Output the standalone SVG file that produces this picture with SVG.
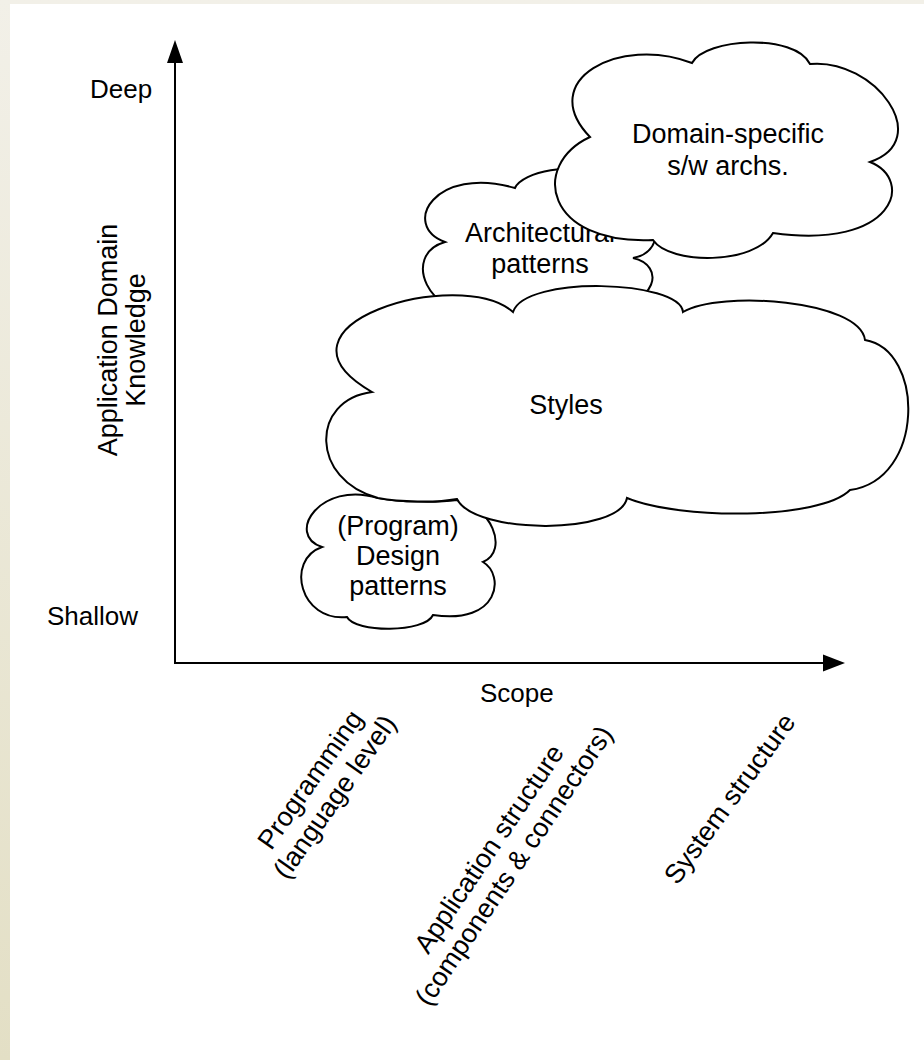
<svg xmlns="http://www.w3.org/2000/svg" width="924" height="1060" viewBox="0 0 924 1060">
  <defs>
    <linearGradient id="paper" x1="0" y1="0" x2="0" y2="1">
      <stop offset="0" stop-color="#f2f0e8"/>
      <stop offset="1" stop-color="#e3dfc5"/>
    </linearGradient>
    <style>
      text { font-family: "Liberation Sans", Arial, Helvetica, sans-serif; fill: #000; }
      .lbl { font-size: 26px; }
      .big { font-size: 27px; }
      .mid { text-anchor: middle; }
      .cloud { fill: #fff; stroke: #000; stroke-width: 2; stroke-linejoin: miter; }
      .axis { stroke: #000; stroke-width: 2; fill: none; }
      .head { fill: #000; stroke: none; }
    </style>
  </defs>

  <!-- page -->
  <rect x="0" y="0" width="924" height="1060" fill="url(#paper)"/>
  <rect x="10" y="4" width="914" height="1056" fill="#fff"/>

  <!-- axes -->
  <g id="connectors">
    <line class="axis" x1="175" y1="663" x2="175" y2="60"/>
    <polygon class="head" points="175,40 167,63 183,63"/>
    <line class="axis" x1="174" y1="663" x2="825" y2="663"/>
    <polygon class="head" points="845,663 823,654.5 823,671.5"/>
  </g>

  <!-- axis labels -->
  <g id="axis-labels">
    <text class="lbl" x="90" y="98">Deep</text>
    <text class="lbl" x="47" y="625">Shallow</text>
    <text class="lbl" x="480" y="702">Scope</text>
    <g transform="translate(117,340) rotate(-90)">
      <text class="big mid" x="0" y="0">Application Domain</text>
      <text class="big mid" x="0" y="28">Knowledge</text>
    </g>
    <g transform="translate(325,790) rotate(-55)">
      <text class="big mid" x="0" y="-9">Programming</text>
      <text class="big mid" x="0" y="21">(language level)</text>
    </g>
    <g transform="translate(504,859) rotate(-56)">
      <text class="big mid" x="0" y="-9">Application structure</text>
      <text class="big mid" x="0" y="21">(components &amp; connectors)</text>
    </g>
    <g transform="translate(737,804) rotate(-54)">
      <text class="big mid" x="0" y="0">System structure</text>
    </g>
  </g>

  <!-- Architectural patterns -->
  <g id="architectural-patterns">
    <path class="cloud" d="M445,242 C400,225 435,165 515,188 C522,172 575,160 600,178 C650,170 680,250 633,258 C665,265 660,305 600,310 C580,330 500,330 480,310 C430,320 400,255 445,242 Z"/>
    <text class="big mid" x="540" y="242">Architectural</text>
    <text class="big mid" x="540" y="273">patterns</text>
  </g>

  <!-- (Program) Design patterns -->
  <g id="design-patterns">
    <path class="cloud" d="M322,547 C285,535 320,480 378,498 C400,502 435,503 457,500 C490,505 510,550 483,562 C505,575 500,625 433,615 C425,633 355,633 347,617 C300,622 285,560 322,547 Z"/>
    <text class="big mid" x="398" y="535">(Program)</text>
    <text class="big mid" x="398" y="565">Design</text>
    <text class="big mid" x="398" y="595">patterns</text>
  </g>

  <!-- Styles -->
  <g id="styles">
    <path class="cloud" d="M513,312 C460,265 255,325 372,392 C310,400 310,480 378,498 C400,502 435,503 457,499 C475,535 620,535 627,498 C680,520 820,520 850,490 C925,480 925,350 865,340 C860,300 720,290 683,312 C680,280 525,275 513,312 Z"/>
    <text class="big mid" x="566" y="414">Styles</text>
  </g>

  <!-- Domain-specific s/w archs. -->
  <g id="domain-specific">
    <path class="cloud" d="M590,137 C535,80 620,35 692,63 C705,38 795,33 810,64 C875,58 935,140 870,162 C915,180 895,250 773,233 C755,265 670,265 653,240 C545,245 530,165 590,137 Z"/>
    <text class="big mid" x="728" y="143">Domain-specific</text>
    <text class="big mid" x="728" y="175">s/w archs.</text>
  </g>
</svg>
